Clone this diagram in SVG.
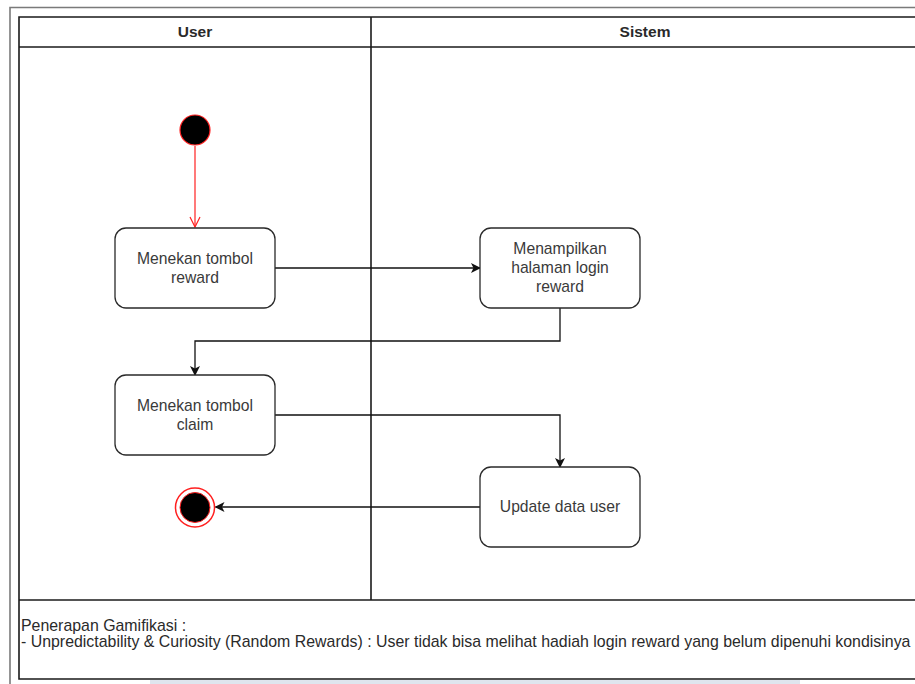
<svg xmlns="http://www.w3.org/2000/svg" width="915" height="684" viewBox="0 0 915 684">
  <style>
    .frame { fill: none; stroke: #1a1a1a; stroke-width: 1.6; }
    .outer { fill: none; stroke: #7a7a7a; stroke-width: 1.6; }
    .act { fill: #ffffff; stroke: #2a2a2a; stroke-width: 1.3; }
    .lbl { font-family: "Liberation Sans", Arial, sans-serif; font-size: 15.7px; fill: #3a3a3a; text-anchor: middle; }
    .hdr { font-family: "Liberation Sans", Arial, sans-serif; font-size: 15.5px; font-weight: bold; fill: #2a2a2a; text-anchor: middle; }
    .note { font-family: "Liberation Sans", Arial, sans-serif; font-size: 15.9px; fill: #2a2a2a; }
    .edge { fill: none; stroke: #111111; stroke-width: 1.3; }
    .edge-red { fill: none; stroke: #ff2020; stroke-width: 1.2; }
  </style>
  <defs>
    <marker id="block" viewBox="0 0 10 10" refX="9" refY="5" markerWidth="10" markerHeight="10" markerUnits="userSpaceOnUse" orient="auto">
      <path d="M0,0 L10,5 L0,10 L2.5,5 Z" fill="#111111"/>
    </marker>
    <marker id="open" viewBox="0 0 12 12" refX="11" refY="6" markerWidth="12" markerHeight="12" markerUnits="userSpaceOnUse" orient="auto">
      <path d="M1,1 L11,6 L1,11" fill="none" stroke="#ff2020" stroke-width="1.2"/>
    </marker>
  </defs>

  <rect width="915" height="684" fill="#ffffff"/>

  <!-- page edge -->
  <g id="page">
    <path class="outer" d="M10,684 V7.5 H915"/>
    <rect x="150" y="680" width="650" height="4" fill="#dfe5ee"/>
  </g>

  <!-- swimlane pool -->
  <g id="pool">
    <path class="frame" d="M919,17 H19 V679 H919"/>
    <line class="frame" x1="19" y1="47" x2="919" y2="47"/>
    <line class="frame" x1="371" y1="17" x2="371" y2="600" stroke-width="2"/>
    <line class="frame" x1="19" y1="600" x2="919" y2="600"/>
  </g>

  <g id="lane-user">
    <text class="hdr" x="195" y="37">User</text>
  </g>
  <g id="lane-sistem">
    <text class="hdr" x="645" y="37">Sistem</text>
  </g>

  <!-- connectors -->
  <g id="connectors">
    <line class="edge-red" x1="195" y1="146" x2="195" y2="227" marker-end="url(#open)"/>
    <line class="edge" x1="275" y1="268" x2="480" y2="268" marker-end="url(#block)"/>
    <path class="edge" d="M560,308 V341 H195 V375" marker-end="url(#block)"/>
    <path class="edge" d="M275,415 H560 V467" marker-end="url(#block)"/>
    <line class="edge" x1="480" y1="507" x2="215.5" y2="507" marker-end="url(#block)"/>
  </g>

  <!-- nodes -->
  <g id="start">
    <circle cx="195" cy="130" r="15" fill="#000000" stroke="#ff2020" stroke-width="1.2"/>
  </g>

  <g id="menekan-reward">
    <rect class="act" x="115" y="228" width="160" height="80" rx="11"/>
    <text class="lbl" x="195" y="264">Menekan tombol</text>
    <text class="lbl" x="195" y="283">reward</text>
  </g>

  <g id="menampilkan-login">
    <rect class="act" x="480" y="228" width="160" height="80" rx="11"/>
    <text class="lbl" x="560" y="254">Menampilkan</text>
    <text class="lbl" x="560" y="273">halaman login</text>
    <text class="lbl" x="560" y="292">reward</text>
  </g>

  <g id="menekan-claim">
    <rect class="act" x="115" y="375" width="160" height="80" rx="11"/>
    <text class="lbl" x="195" y="411">Menekan tombol</text>
    <text class="lbl" x="195" y="430">claim</text>
  </g>

  <g id="update-data">
    <rect class="act" x="480" y="467" width="160" height="80" rx="11"/>
    <text class="lbl" x="560" y="512">Update data user</text>
  </g>

  <g id="end">
    <circle cx="195" cy="507.5" r="19.5" fill="#ffffff" stroke="#ff2020" stroke-width="1.5"/>
    <circle cx="195" cy="507.5" r="15" fill="#000000" stroke="#ff2020" stroke-width="1"/>
  </g>

  <g id="note">
    <text class="note" x="21" y="631">Penerapan Gamifikasi :</text>
    <text class="note" x="21" y="647">- Unpredictability &amp; Curiosity (Random Rewards) : User tidak bisa melihat hadiah login reward yang belum dipenuhi kondisinya</text>
  </g>
</svg>
